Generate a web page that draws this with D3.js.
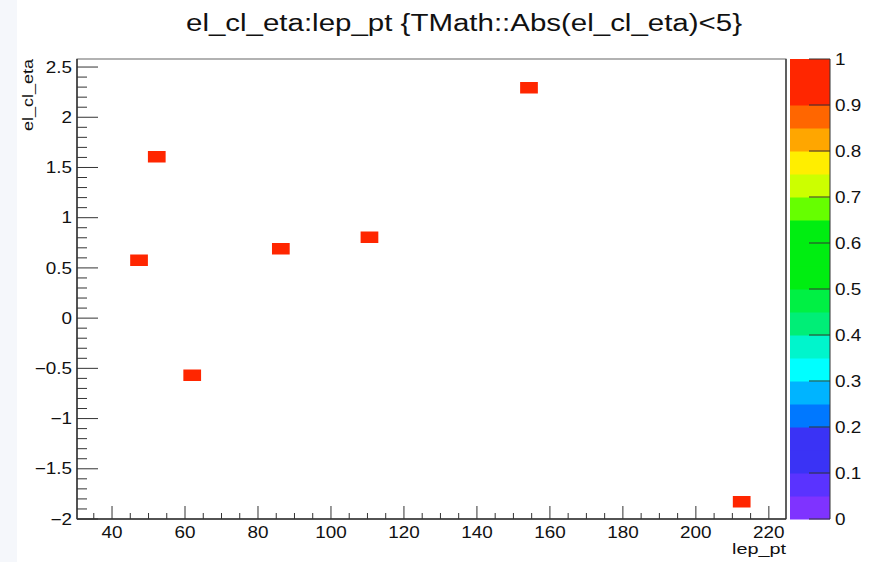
<!DOCTYPE html>
<html><head><meta charset="utf-8">
<script src="https://cdn.jsdelivr.net/npm/d3@7"></script>
<style>body{margin:0;background:#fff}svg{display:block;font-family:"Liberation Sans",Arial,sans-serif}</style>
</head><body><svg id="c" width="875" height="562"></svg>
<script>
// data
const lepPt   = [47.3, 52.1, 62.0, 86.1, 110.7, 154.4, 212.9];
const elClEta = [0.587, 1.61, -0.557, 0.70, 0.815, 2.31, -1.816];
const counts  = [1, 1, 1, 1, 1, 1, 1];
const xDomain = [30.4, 224.7];
const yDomain = [-2, 2.58];
const nBinsX = 40, nBinsY = 40;
const xTicks = [40, 60, 80, 100, 120, 140, 160, 180, 200, 220];
const yTicks = [-2, -1.5, -1, -0.5, 0, 0.5, 1, 1.5, 2, 2.5];
const zTicks = [0, 0.1, 0.2, 0.3, 0.4, 0.5, 0.6, 0.7, 0.8, 0.9, 1];
const paletteColors = ["#7f33ff","#5a33ff","#3a33f5","#3a33f5","#0078ff","#00b4ff","#00ffff","#00f5cc","#00ee77","#00f044",
                       "#00ee11","#00ee11","#00ee11","#66ff00","#ccff00","#ffee00","#ffa600","#ff6600","#ff2600","#ff2600"];
const title = "el_cl_eta:lep_pt {TMath::Abs(el_cl_eta)<5}";

const svg = d3.select("#c");
const L = 77, R = 786, T = 59, B = 519;
const SX = 1.18;
const x = d3.scaleLinear().domain(xDomain).range([L, R]);
const y = d3.scaleLinear().domain(yDomain).range([B, T]);
const z = d3.scaleQuantize().domain([0, 1]).range(paletteColors);

function label(g, tx, ty, str, anchor, size, dy) {
  return g.append("text").attr("transform", `translate(${tx},${ty}) scale(${SX},1)`)
    .attr("text-anchor", anchor).attr("dy", dy || null).attr("font-size", size).attr("fill", "#111").text(str);
}

svg.append("rect").attr("x",0).attr("y",0).attr("width",17).attr("height",562).attr("fill","#f5f7fb");

// frame
svg.append("rect").attr("x",L).attr("y",T).attr("width",R-L).attr("height",B-T)
  .attr("fill","#fff").attr("stroke","#666").attr("stroke-width",1);
svg.append("line").attr("x1",R).attr("x2",R).attr("y1",T).attr("y2",B).attr("stroke","#444").attr("stroke-width",1.5);

// bins
const bw = (xDomain[1]-xDomain[0])/nBinsX, bh = (yDomain[1]-yDomain[0])/nBinsY;
lepPt.forEach((v,i)=>{
  const ix = Math.floor((v - xDomain[0])/bw), iy = Math.floor((elClEta[i]-yDomain[0])/bh);
  const x0 = x(xDomain[0]+ix*bw), x1 = x(xDomain[0]+(ix+1)*bw);
  const y0 = y(yDomain[0]+(iy+1)*bh), y1 = y(yDomain[0]+iy*bh);
  svg.append("rect").attr("x",x0).attr("y",y0).attr("width",x1-x0).attr("height",y1-y0).attr("fill",z(counts[i]*0.999));
});

// x axis
const gx = svg.append("g");
d3.range(35, 225, 5).forEach(t=>{
  const major = xTicks.includes(t);
  gx.append("line").attr("x1",x(t)).attr("x2",x(t)).attr("y1",B).attr("y2",B-(major?13:6)).attr("stroke","#333");
});
xTicks.forEach(t=>label(gx, x(t), 538, t, "middle", 16));
gx.append("line").attr("x1",L).attr("x2",R).attr("y1",B).attr("y2",B).attr("stroke","#333").attr("stroke-width",1.5);
svg.append("text").attr("x",R).attr("y",554).attr("text-anchor","end").attr("font-size",15.5)
  .attr("textLength",54).attr("lengthAdjust","spacingAndGlyphs").attr("fill","#111").text("lep_pt");

// y axis
const gy = svg.append("g");
d3.range(-20, 26, 1).map(v=>v/10).forEach(t=>{
  const major = Math.abs(t*2 - Math.round(t*2))<1e-6;
  gy.append("line").attr("x1",L).attr("x2",L+(major?21:10)).attr("y1",y(t)).attr("y2",y(t)).attr("stroke","#333");
});
yTicks.forEach(t=>label(gy, 72, y(t), d3.format("")(t).replace("-","\u2212"), "end", 16, "0.35em"));
gy.append("line").attr("x1",L).attr("x2",L).attr("y1",T).attr("y2",B).attr("stroke","#333").attr("stroke-width",1.5);
svg.append("text").attr("transform",`translate(33,${T}) rotate(-90)`).attr("text-anchor","end").attr("font-size",15)
  .attr("textLength",72).attr("lengthAdjust","spacingAndGlyphs").attr("fill","#111").text("el_cl_eta");

// colour bar
const cL = 790, cR = 830;
const zy = d3.scaleLinear().domain([0,1]).range([B, T]);
paletteColors.forEach((c,i)=>{
  const a = i/paletteColors.length, b = (i+1)/paletteColors.length;
  svg.append("rect").attr("x",cL).attr("y",zy(b)).attr("width",cR-cL).attr("height",zy(a)-zy(b)+0.5).attr("fill",c);
});
svg.append("line").attr("x1",cR).attr("x2",cR).attr("y1",T).attr("y2",B).attr("stroke","#333");
zTicks.forEach(t=>{
  svg.append("line").attr("x1",cR-21).attr("x2",cR).attr("y1",zy(t)).attr("y2",zy(t)).attr("stroke","#333");
  label(svg, 835, zy(t), t, "start", 16, "0.35em");
});

// title
svg.append("text").attr("x",464).attr("y",31).attr("text-anchor","middle").attr("font-size",23)
  .attr("textLength",556).attr("lengthAdjust","spacingAndGlyphs").attr("fill","#111").text(title);
</script></body></html>
